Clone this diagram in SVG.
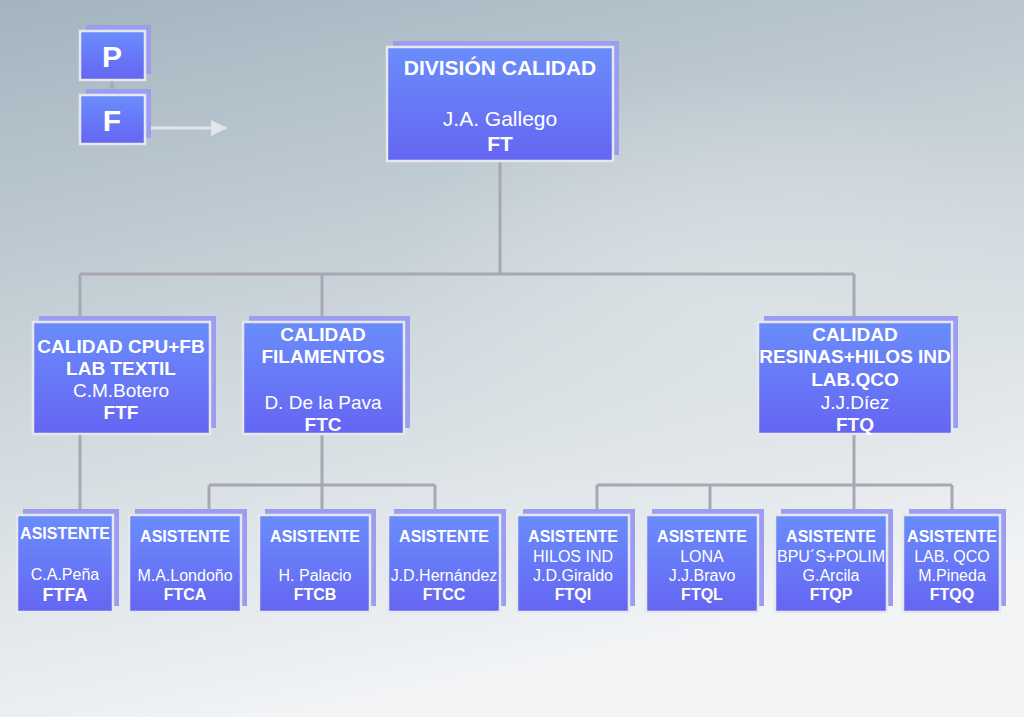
<svg xmlns="http://www.w3.org/2000/svg" width="1024" height="717" viewBox="0 0 1024 717">
<defs>
<linearGradient id="bg" x1="0" y1="0" x2="0.3" y2="1"><stop offset="0" stop-color="#a3b4bf"/><stop offset="0.55" stop-color="#d0d9de"/><stop offset="1" stop-color="#f2f4f6"/></linearGradient>
<radialGradient id="hl" cx="0.72" cy="0.45" r="0.35"><stop offset="0" stop-color="#dfe5e8" stop-opacity="0.7"/><stop offset="1" stop-color="#dfe5e8" stop-opacity="0"/></radialGradient>
<linearGradient id="box" x1="0" y1="0" x2="0" y2="1"><stop offset="0" stop-color="#6a8dfb"/><stop offset="1" stop-color="#6565f2"/></linearGradient>
<marker id="ar" markerWidth="16" markerHeight="16" refX="15" refY="8" orient="auto" markerUnits="userSpaceOnUse"><path d="M0,0 L16,8 L0,16 z" fill="#e4e6ec"/></marker>
</defs>
<style>
.sh{fill:#9a9df0}
.bx{fill:url(#box);stroke:#e6e8ee;stroke-width:2.5}
text{font-family:"Liberation Sans Narrow","Liberation Sans",Arial,sans-serif;fill:#fff;text-anchor:middle}
.b{font-weight:bold}
.con{stroke:#a8a8b4;stroke-width:3;fill:none}
</style>
<rect width="1024" height="717" fill="url(#bg)"/>
<rect width="1024" height="717" fill="url(#hl)"/>
<g id="connectors">
<path class="con" d="M112,80V95"/>
<path d="M148,128H226" stroke="#e4e6ec" stroke-width="3" marker-end="url(#ar)"/>
<path class="con" d="M500,161V274M80,274H854M80,274V322M322,274V322M854,274V322"/>
<path class="con" d="M80,434V515M322,434V515M209,485H435M209,485V515M435,485V515"/>
<path class="con" d="M854,434V515M597,485H952M597,485V515M710,485V515M952,485V515"/>
</g>
<g id="P"><rect class="sh" x="86" y="25" width="65" height="49"/><rect class="bx" x="80" y="31" width="65" height="49"/><text class="b" x="112" y="67" font-size="30">P</text></g>
<g id="F"><rect class="sh" x="86" y="89" width="65" height="49"/><rect class="bx" x="80" y="95" width="65" height="49"/><text class="b" x="112" y="131" font-size="30">F</text></g>
<g id="FT"><rect class="sh" x="393" y="41" width="226" height="114"/><rect class="bx" x="387" y="47" width="226" height="114"/><text class="b" x="500" y="75" font-size="21">DIVISIÓN CALIDAD</text><text x="500" y="126" font-size="21">J.A. Gallego</text><text class="b" x="500" y="151" font-size="21">FT</text></g>
<g id="FTF"><rect class="sh" x="39" y="316" width="177" height="112"/><rect class="bx" x="33" y="322" width="177" height="112"/><text class="b" x="121" y="353" font-size="19">CALIDAD CPU+FB</text><text class="b" x="121" y="375" font-size="19">LAB TEXTIL</text><text x="121" y="397" font-size="19">C.M.Botero</text><text class="b" x="121" y="419" font-size="19">FTF</text></g>
<g id="FTC"><rect class="sh" x="249" y="316" width="161" height="112"/><rect class="bx" x="243" y="322" width="161" height="112"/><text class="b" x="323" y="341" font-size="19">CALIDAD</text><text class="b" x="323" y="363" font-size="19">FILAMENTOS</text><text x="323" y="409" font-size="19">D. De la Pava</text><text class="b" x="323" y="431" font-size="19">FTC</text></g>
<g id="FTQ"><rect class="sh" x="764" y="316" width="194" height="112"/><rect class="bx" x="758" y="322" width="194" height="112"/><text class="b" x="855" y="341" font-size="19">CALIDAD</text><text class="b" x="855" y="363" font-size="19">RESINAS+HILOS IND</text><text class="b" x="855" y="386" font-size="19">LAB.QCO</text><text x="855" y="409" font-size="19">J.J.Díez</text><text class="b" x="855" y="431" font-size="19">FTQ</text></g>
<g id="FTFA"><rect class="sh" x="23" y="509" width="96" height="97"/><rect class="bx" x="17" y="515" width="96" height="97"/><text class="b" x="65" y="539" font-size="16">ASISTENTE</text><text x="65" y="580" font-size="16">C.A.Peña</text><text class="b" x="65" y="601" font-size="18">FTFA</text></g>
<g id="FTCA"><rect class="sh" x="135" y="509" width="112" height="97"/><rect class="bx" x="129" y="515" width="112" height="97"/><text class="b" x="185" y="542" font-size="16">ASISTENTE</text><text x="185" y="581" font-size="16">M.A.Londoño</text><text class="b" x="185" y="600" font-size="16">FTCA</text></g>
<g id="FTCB"><rect class="sh" x="265" y="509" width="111" height="97"/><rect class="bx" x="259" y="515" width="111" height="97"/><text class="b" x="315" y="542" font-size="16">ASISTENTE</text><text x="315" y="581" font-size="16">H. Palacio</text><text class="b" x="315" y="600" font-size="16">FTCB</text></g>
<g id="FTCC"><rect class="sh" x="394" y="509" width="112" height="97"/><rect class="bx" x="388" y="515" width="112" height="97"/><text class="b" x="444" y="542" font-size="16">ASISTENTE</text><text x="444" y="581" font-size="16">J.D.Hernández</text><text class="b" x="444" y="600" font-size="16">FTCC</text></g>
<g id="FTQI"><rect class="sh" x="523" y="509" width="112" height="97"/><rect class="bx" x="517" y="515" width="112" height="97"/><text class="b" x="573" y="542" font-size="16">ASISTENTE</text><text x="573" y="562" font-size="16">HILOS IND</text><text x="573" y="581" font-size="16">J.D.Giraldo</text><text class="b" x="573" y="600" font-size="16">FTQI</text></g>
<g id="FTQL"><rect class="sh" x="652" y="509" width="112" height="97"/><rect class="bx" x="646" y="515" width="112" height="97"/><text class="b" x="702" y="542" font-size="16">ASISTENTE</text><text x="702" y="562" font-size="16">LONA</text><text x="702" y="581" font-size="16">J.J.Bravo</text><text class="b" x="702" y="600" font-size="16">FTQL</text></g>
<g id="FTQP"><rect class="sh" x="781" y="509" width="112" height="97"/><rect class="bx" x="775" y="515" width="112" height="97"/><text class="b" x="831" y="542" font-size="16">ASISTENTE</text><text x="831" y="562" font-size="16">BPU´S+POLIM</text><text x="831" y="581" font-size="16">G.Arcila</text><text class="b" x="831" y="600" font-size="16">FTQP</text></g>
<g id="FTQQ"><rect class="sh" x="909" y="509" width="97" height="97"/><rect class="bx" x="903" y="515" width="97" height="97"/><text class="b" x="952" y="542" font-size="16">ASISTENTE</text><text x="952" y="562" font-size="16">LAB. QCO</text><text x="952" y="581" font-size="16">M.Pineda</text><text class="b" x="952" y="600" font-size="16">FTQQ</text></g>
</svg>
